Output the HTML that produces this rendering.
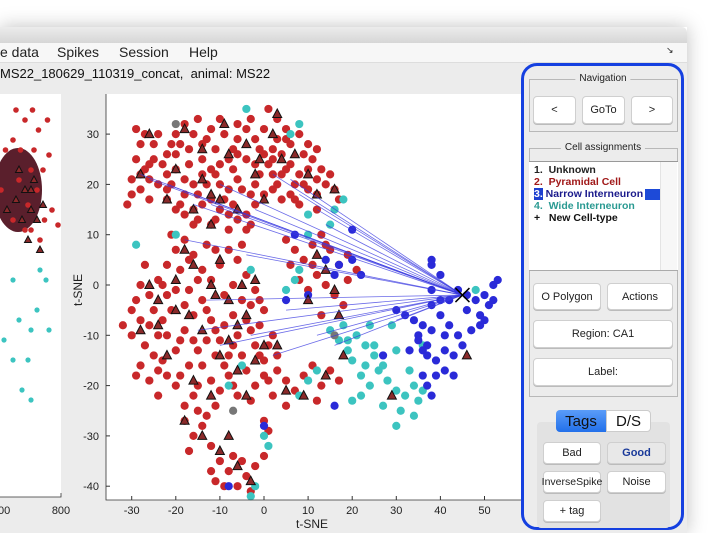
<!DOCTYPE html>
<html><head><meta charset="utf-8">
<style>
*{box-sizing:border-box;margin:0;padding:0}
body{width:723px;height:533px;overflow:hidden;background:#fff;font-family:"Liberation Sans",sans-serif;position:relative}
.abs{position:absolute}
.btn{position:absolute;background:#fff;border:1px solid #cfcfcf;border-radius:4px;font-size:11px;color:#222;display:flex;align-items:center;justify-content:center;box-shadow:0 1px 0 #bbb}
.grp{position:absolute;border:1px solid #b8b8b8}
.gt{position:absolute;background:#ececec;font-size:10px;color:#222;padding:0 4px;transform:translateX(-50%)}
.li{position:absolute;left:5px;font-size:10.5px;font-weight:bold;white-space:nowrap}
</style></head><body>
<div class="abs" style="left:0;top:27px;width:687px;height:506px;box-shadow:0 0 18px rgba(0,0,0,0.25)"></div>
<div class="abs" style="left:0;top:27px;width:687px;height:16px;background:linear-gradient(#ececec,#d6d6d6);border-top-right-radius:5px"></div>
<div class="abs" style="left:0;top:43px;width:687px;height:20px;background:#f7f7f7;border-bottom:1px solid #ddd;font-size:14px;color:#222">
 <span class="abs" style="left:0;top:1px">e data</span>
 <span class="abs" style="left:57px;top:1px">Spikes</span>
 <span class="abs" style="left:119px;top:1px">Session</span>
 <span class="abs" style="left:189px;top:1px">Help</span>
 <span class="abs" style="left:666px;top:2px;font-size:9px">↘</span>
</div>
<div class="abs" style="left:0;top:63px;width:687px;height:470px;background:#ececec"></div>
<div class="abs" style="left:0;top:66px;font-size:13px;color:#111">MS22_180629_110319_concat,&nbsp; animal: MS22</div>

<svg class="abs" style="left:0;top:0" width="723" height="533" id="svgL"></svg>
<svg class="abs" style="left:0;top:0" width="723" height="533" id="svgR"></svg>

<div class="abs" style="left:521px;top:63px;width:163px;height:467px;border:3px solid #1540e0;border-radius:16px;background:#ececec">
</div>
<div class="grp" style="left:529px;top:79px;width:149px;height:53px"></div>
<div class="gt" style="left:603px;top:73px">Navigation</div>
<div class="btn" style="left:533px;top:96px;width:43px;height:28px">&lt;</div>
<div class="btn" style="left:582px;top:96px;width:43px;height:28px">GoTo</div>
<div class="btn" style="left:631px;top:96px;width:42px;height:28px">&gt;</div>

<div class="grp" style="left:529px;top:148px;width:149px;height:249px"></div>
<div class="gt" style="left:603px;top:142px">Cell assignments</div>
<div class="abs" style="left:529px;top:161px;width:149px;height:110px;background:#fff;border-top:1px solid #999;border-bottom:1px solid #aaa">
 <div class="abs" style="left:131px;top:0;width:17px;height:108px;background:#f7f7f7;border-left:1px solid #e4e4e4"></div>
 <div class="li" style="top:2px;color:#222">1.&nbsp; Unknown</div>
 <div class="li" style="top:14px;color:#a01818">2.&nbsp; Pyramidal Cell</div>
 <div class="li" style="top:26px;color:#1a1a8c"><span style="background:#1d3fd0;color:#fff">3.</span>&nbsp;Narrow Interneuron</div>
 <div class="abs" style="left:116px;top:27px;width:15px;height:11px;background:#1d4ad8"></div>
 <div class="li" style="top:38px;color:#2a9a92">4.&nbsp; Wide Interneuron</div>
 <div class="li" style="top:50px;color:#111">+&nbsp;&nbsp; New Cell-type</div>
</div>
<div class="btn" style="left:533px;top:283px;width:68px;height:27px">O Polygon</div>
<div class="btn" style="left:607px;top:283px;width:66px;height:27px">Actions</div>
<div class="btn" style="left:533px;top:320px;width:140px;height:28px">Region: CA1</div>
<div class="btn" style="left:533px;top:358px;width:140px;height:28px">Label:</div>

<div class="abs" style="left:537px;top:422px;width:133px;height:106px;background:#e2e2e2;border-radius:4px"></div>
<div class="abs" style="left:556px;top:410px;width:50px;height:22px;background:linear-gradient(#5a9cf8,#2270ea);color:#111;font-size:15px;display:flex;align-items:center;justify-content:center;border-radius:4px 0 0 4px">Tags</div>
<div class="abs" style="left:606px;top:410px;width:45px;height:22px;background:#fff;border:1px solid #ccc;color:#111;font-size:15px;display:flex;align-items:center;justify-content:center;border-radius:0 4px 4px 0">D/S</div>
<div class="btn" style="left:543px;top:442px;width:58px;height:22px">Bad</div>
<div class="btn" style="left:607px;top:442px;width:59px;height:22px;background:#e8e8e8;color:#1a3a9a;font-weight:bold">Good</div>
<div class="btn" style="left:543px;top:471px;width:58px;height:22px;font-size:10.5px">InverseSpike</div>
<div class="btn" style="left:607px;top:471px;width:59px;height:22px">Noise</div>
<div class="btn" style="left:543px;top:500px;width:58px;height:22px">+ tag</div>

<script>
// ---- t-SNE chart data ----
const xTicks=[-30,-20,-10,0,10,20,30,40,50];
const yTicks=[30,20,10,0,-10,-20,-30,-40];
const redPts=[[-29,31],[-27,30],[-28,28],[-25,25],[-28,22],[-26,21],[-24,20],[-22,22],[-20,23],[-18,21],[-16,20],[-14,22],[-12,23],[-10,24],[-8,25],[-6,26],[-4,25],[-2,24],[0,26],[2,27],[4,26],[6,24],[8,22],[10,23],[12,21],[14,20],[16,19],[17,17],[-30,18],[-28,19],[-26,17],[-22,17],[-20,15],[-18,14],[-16,15],[-14,16],[-12,17],[-10,15],[-8,14],[-6,13],[-4,14],[-2,16],[0,18],[2,19],[4,17],[6,18],[8,16],[10,19],[12,18],[-24,30],[-20,30],[-18,32],[-15,33],[-12,31],[-9,30],[-6,32],[-3,33],[0,31],[3,33],[5,31],[8,30],[10,28],[12,27],[1,35],[-14,28],[-11,27],[-17,27],[-20,26],[-6,29],[-2,29],[6,28],[9,26],[-16,12],[-12,12],[-8,11],[-4,11],[-22,26],[-25,28],[-30,21],[-31,16],[-14,25],[-10,20],[-6,21],[-2,20],[2,22],[4,22],[-18,18],[-22,19],[12,15],[15,22],[-26,24],[-3,18],[7,20],[-19,28],[-8,19],[3,29],
[-27,23],[-23,24],[-21,20],[-17,24],[-15,18],[-13,20],[-11,22],[-9,17],[-7,23],[-5,19],[-1,22],[1,24],[3,20],[5,23],[7,17],[9,20],[11,25],[13,23],[-16,30],[-13,29],[-10,33],[-7,27],[-4,31],[-1,27],[2,25],[5,29],[-19,16],[-15,13],[-11,13],[-7,16],[-3,12],[-29,25],[-21,28],
[-32,-8],[-29,-3],[-28,-7],[-27,-12],[-25,-5],[-24,-10],[-23,-15],[-22,-18],[-20,-13],[-18,-9],[-16,-6],[-14,-3],[-12,-7],[-10,-11],[-8,-14],[-6,-10],[-4,-7],[-2,-12],[0,-15],[2,-10],[-26,-2],[-24,1],[-22,4],[-20,7],[-18,9],[-16,6],[-14,3],[-12,1],[-10,4],[-8,7],[-6,5],[-4,2],[-2,-1],[0,-5],[-20,-1],[-18,-4],[-16,-11],[-14,-16],[-12,-19],[-10,-21],[-8,-18],[-6,-22],[-4,-17],[-2,-20],[0,-18],[2,-22],[-28,-16],[-26,-19],[-24,-22],[-20,-20],[-18,-24],[-16,-22],[-30,-10],[-27,4],[-22,-2],[-15,-13],[-11,-14],[-5,-14],[-1,-8],[3,-14],[-9,-2],[-7,0],[-3,-4],[-19,3],[-13,8],[-21,10],[-25,-14],[-17,-16],[-9,-8],[-13,-11],[-7,-12],[-23,-7],[-1,-3],[1,-19],[-29,-18],
[-30,-5],[-28,0],[-26,-8],[-24,-17],[-22,-10],[-21,-5],[-19,-11],[-17,-1],[-15,1],[-13,-5],[-11,-9],[-9,-16],[-7,-6],[-5,-3],[-3,-9],[-1,-14],[1,-12],[-19,-18],[-15,-20],[-11,-24],[-7,-20],[-3,-23],[-23,0],[-17,5],[-11,7],[-5,8],
[-18,-27],[-16,-30],[-14,-28],[-12,-32],[-10,-35],[-8,-37],[-6,-40],[-4,-38],[-2,-36],[0,-34],[-12,-37],[-9,-40],[-7,-34],[-3,-41],[-15,-25],[0,-27],[1,-29],[-11,-39],[-5,-35],[-17,-33],[-13,-26],
[5,9],[7,7],[9,5],[11,8],[13,10],[15,7],[17,4],[19,1],[21,3],[12,2],[14,0],[16,-2],[18,-4],[8,1],[10,-1],[13,-6],[6,4],[19,6],[3,-17],[5,-19],[7,-21],[9,-18],[11,-16],[13,-20],[15,-17],[17,-19],[5,-24],[12,-23],[14,8],[11,4]];
const triPts=[[-28,22],[-26,30],[-20,23],[-14,27],[-8,26],[-4,28],[2,30],[4,25],[10,22],[12,18],[16,19],[-22,17],[-16,15],[-12,18],[-6,15],[0,17],[7,26],[-18,31],[-9,32],[3,34],[-18,7],[-16,4],[-12,0],[-8,-3],[-4,-6],[-20,-5],[-24,-8],[-14,-9],[-10,-14],[-6,-17],[-2,-15],[0,-12],[-28,-9],[-22,-14],[-16,-19],[-12,-22],[-4,-22],[-18,-27],[-14,-30],[-10,-33],[-6,-36],[-3,-39],[-8,-30],[12,6],[14,3],[16,-1],[10,-3],[17,-6],[5,-21],[9,-22],[14,-18],[3,-12],[-26,0],[-20,1],[-10,5],[-5,0],[18,-14],[29,-22],[46,-14],[-2,1],[-12,12],[-2,22],[-24,-3],[-6,-8],[-14,21],[-10,17],[-1,25],[-17,-6],[-11,-2],[-8,-11]];
const cyanPts=[[15,-9],[17,-11],[19,-13],[21,-10],[23,-12],[25,-14],[27,-16],[20,-15],[22,-18],[24,-20],[26,-17],[28,-19],[30,-21],[32,-22],[34,-20],[35,-23],[31,-25],[27,-24],[22,-22],[20,-23],[33,-17],[36,-12],[30,-13],[29,-8],[18,-8],[24,-8],[12,-17],[10,-19],[18,17],[16,15],[15,12],[10,14],[7,1],[8,3],[-3,3],[-20,10],[-29,8],[-2,-40],[-3,-42],[1,-32],[0,-30],[6,30],[8,32],[-4,35],[5,-1],[10,10],[-8,-20],[-5,-16],[30,-28],[34,-26],[36,-21],[48,-1],[8,-22],[19,-11],[25,-12],[23,-16]];
const bluePts=[[34,-7],[36,-8],[38,-9],[40,-6],[42,-8],[44,-10],[46,-5],[48,-3],[50,-2],[52,0],[53,1],[51,-4],[49,-6],[47,-9],[45,-12],[43,-14],[41,-13],[39,-15],[37,-12],[35,-10],[33,-13],[36,-18],[37,-20],[38,-22],[39,-18],[41,-17],[42,-3],[38,-4],[44,-1],[46,-2],[32,-6],[30,-5],[38,-1],[40,-3],[50,-7],[52,-3],[40,2],[38,4],[38,5],[35,-11],[37,-14],[43,-18],[27,-14],[17,4],[20,5],[22,2],[16,2],[14,5],[5,-3],[16,-24],[-8,-40],[0,-28],[10,-2],[20,11],[7,10],[49,-8],[36,-13],[41,-10]];
const grayPts=[[-20,32],[16,-10],[-7,-25]];
const selected=[45,-2];
const linkTargets=[[-28,22],[-26,21],[-22,20],[-16,16],[-12,16],[-10,20],[-2,15],[2,22],[6,21],[8,18],[12,15],[14,12],[-18,9],[-4,6],[-15,-9],[-10,-12],[-13,-3],[-3,-10],[2,-14],[12,-10],[16,-12],[30,-7],[5,-5]];

// ---- left mini chart data ----
const leftXTicks=[600,800];
const leftRed=[[650,310],[700,250],[760,265],[680,300],[720,230],[745,200],[770,210],[640,280],[690,215],[710,270],[790,195],[660,240],[730,180],[755,300],[700,190],[640,200],[600,230],[615,270],[740,250],[680,190],[725,290],[705,310],[665,270]];
const leftCyan=[[730,150],[700,90],[690,60],[670,30],[700,20],[720,110],[760,90],[640,140],[660,100],[610,80],[750,140],[640,60]];
const leftTri=[[620,210],[650,220],[680,230],[700,210],[720,200],[740,215],[660,250],[690,180],[710,240],[730,170],[670,200],[700,230]];

const NS="http://www.w3.org/2000/svg";
function mk(parent,tag,attrs){const e=document.createElementNS(NS,tag);for(const k in attrs)e.setAttribute(k,attrs[k]);parent.appendChild(e);return e;}

// right chart scales
const sx=v=>264+v*4.41, sy=v=>285-v*5.03;
const R=document.getElementById('svgR');
const bg=mk(R,'rect',{x:106,y:94,width:415,height:406,fill:'#fff'});


const gL=mk(R,'g',{});


const gD=mk(R,'g',{});


function dot(g,p,c,name){const e=mk(g,'circle',{cx:sx(p[0]),cy:sy(p[1]),r:4.1,fill:c});

}
redPts.forEach(p=>dot(gD,p,'#c8282a','pyramidal-point'));
cyanPts.forEach(p=>dot(gD,p,'#3cc4c0','wide-interneuron-point'));
bluePts.forEach(p=>dot(gD,p,'#2a2ad8','narrow-interneuron-point'));
grayPts.forEach(p=>dot(gD,p,'#777','unknown-point'));
triPts.forEach(p=>{const x=sx(p[0]),y=sy(p[1]);const t=mk(gD,'polygon',{points:`${x},${y-5} ${x-4.5},${y+3.5} ${x+4.5},${y+3.5}`,fill:'#8a2a2a',stroke:'#111','stroke-width':1});

});
linkTargets.forEach(p=>{const l=mk(gL,'line',{x1:sx(selected[0]),y1:sy(selected[1]),x2:sx(p[0]),y2:sy(p[1]),stroke:'#3a3ae0','stroke-width':0.8,'stroke-opacity':0.75});

});
R.appendChild(gL);
const X=mk(R,'path',{d:`M${sx(selected[0])-7},${sy(selected[1])-7}L${sx(selected[0])+7},${sy(selected[1])+7}M${sx(selected[0])+7},${sy(selected[1])-7}L${sx(selected[0])-7},${sy(selected[1])+7}`,stroke:'#000','stroke-width':1.5});


const ax=mk(R,'path',{d:'M106,94V500H521',stroke:'#333',fill:'none','stroke-width':0.8});


xTicks.forEach(v=>{const t=mk(R,'text',{x:sx(v),y:514,'font-size':11,'text-anchor':'middle',fill:'#222','font-family':'Liberation Sans'});t.textContent=v;


mk(R,'line',{x1:sx(v),y1:500,x2:sx(v),y2:496,stroke:'#333'});});
yTicks.forEach(v=>{const t=mk(R,'text',{x:99,y:sy(v)+4,'font-size':11,'text-anchor':'end',fill:'#222','font-family':'Liberation Sans'});t.textContent=v;


mk(R,'line',{x1:106,y1:sy(v),x2:110,y2:sy(v),stroke:'#333'});});
const xt=mk(R,'text',{x:312,y:528,'font-size':12,'text-anchor':'middle',fill:'#222','font-family':'Liberation Sans'});xt.textContent='t-SNE';


const yt=mk(R,'text',{x:0,y:0,'font-size':12,'text-anchor':'middle',fill:'#222','font-family':'Liberation Sans',transform:'translate(82,290) rotate(-90)'});yt.textContent='t-SNE';



// left chart
const L=document.getElementById('svgL');
const lx=v=>1+(v-600)*0.3, ly=v=>420-v;
const lbg=mk(L,'rect',{x:0,y:94,width:61,height:403,fill:'#fff'});


const blob=mk(L,'ellipse',{cx:18,cy:190,rx:24,ry:42,fill:'#5a1f2c'});


leftRed.forEach(p=>{const c=mk(L,'circle',{cx:lx(p[0]),cy:ly(p[1]),r:2.8,fill:'#c8282a'});

});
leftCyan.forEach(p=>{const c=mk(L,'circle',{cx:lx(p[0]),cy:ly(p[1]),r:2.6,fill:'#3cc4c0'});

});
leftTri.forEach(p=>{const x=lx(p[0]),y=ly(p[1]);const t=mk(L,'polygon',{points:`${x},${y-4} ${x-3.5},${y+2.5} ${x+3.5},${y+2.5}`,fill:'#8a2a2a',stroke:'#111'});

});
mk(L,'path',{d:'M0,497H61V493',stroke:'#333',fill:'none','stroke-width':0.8});
leftXTicks.forEach(v=>{const t=mk(L,'text',{x:lx(v),y:514,'font-size':11,'text-anchor':'middle',fill:'#222','font-family':'Liberation Sans'});t.textContent=v;

});
</script>
</body></html>
